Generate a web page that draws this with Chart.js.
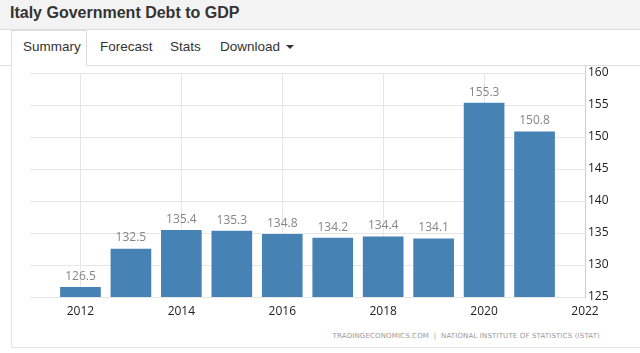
<!DOCTYPE html>
<html>
<head>
<meta charset="utf-8">
<script src="https://cdn.jsdelivr.net/npm/chart.js@4/dist/chart.umd.min.js"></script>
<style>
  body { margin: 0; width: 640px; height: 353px; background: #fff; position: relative; overflow: hidden; font-family: "Open Sans", sans-serif; }
  .head { position: absolute; left: 0; top: 0; width: 640px; height: 29px; background: #f3f3f3; border-bottom: 1px solid #ddd; }
  .head h1 { margin: 0; position: absolute; left: 10px; top: 4px; font: bold 16px "Liberation Sans", Arial, sans-serif; color: #333; }
  .tabs { position: absolute; left: 0; top: 30px; width: 640px; height: 35px; border-bottom: 1px solid #ddd; }
  .tab { position: absolute; top: 9px; font: 13.5px "Liberation Sans", Arial, sans-serif; color: #333; }
  .tab.active { top: 0; left: 11px; width: 76px; height: 36px; background: #fff; border: 1px solid #ddd; border-bottom: none; box-sizing: border-box; }
  .tab.active span { position: absolute; left: 11px; top: 8px; }
  .caret { display: inline-block; border-top: 4px solid #333; border-left: 4px solid transparent; border-right: 4px solid transparent; vertical-align: middle; margin-left: 6px; }
  .panel { position: absolute; left: 11px; top: 66px; width: 640px; height: 281px; border-left: 1px solid #e6e6e6; border-bottom: 1px solid #e6e6e6; }
  .wrap { position: absolute; left: 0; top: 60px; width: 640px; height: 270px; }
  .foot { position: absolute; right: 40px; top: 332px; font: 7px "DejaVu Sans", sans-serif; letter-spacing: 0.15px; color: #999; white-space: nowrap; }
</style>
</head>
<body>
<div class="head"><h1>Italy Government Debt to GDP</h1></div>
<div class="tabs">
  <div class="tab active"><span>Summary</span></div>
  <div class="tab" style="left:100px">Forecast</div>
  <div class="tab" style="left:170px">Stats</div>
  <div class="tab" style="left:220px">Download<span class="caret"></span></div>
</div>
<div class="panel"></div>
<div class="wrap"><canvas id="debtChart"></canvas></div>
<div class="foot">TRADINGECONOMICS.COM &nbsp;|&nbsp; NATIONAL INSTITUTE OF STATISTICS (ISTAT)</div>
<script>
const years = [2012, 2013, 2014, 2015, 2016, 2017, 2018, 2019, 2020, 2021];
const debtRatio = [126.5, 132.5, 135.4, 135.3, 134.8, 134.2, 134.4, 134.1, 155.3, 150.8];
const yearTicks = [2012, 2014, 2016, 2018, 2020, 2022];
const ratioTicks = [125, 130, 135, 140, 145, 150, 155, 160];

// etiket nilai di atas tiap batang
const valueLabels = {
  id: 'valueLabels',
  afterDatasetsDraw(chart) {
    const ctx = chart.ctx;
    const meta = chart.getDatasetMeta(0);
    ctx.save();
    ctx.font = '12px "Open Sans", sans-serif';
    ctx.fillStyle = '#858585';
    ctx.textAlign = 'center';
    ctx.textBaseline = 'middle';
    meta.data.forEach((bar, i) => {
      ctx.fillText(debtRatio[i].toFixed(1), bar.x, bar.y - 11);
    });
    // garis sumbu kanan sampai ke atas
    const y = chart.scales.y;
    ctx.strokeStyle = '#d0d0d0';
    ctx.lineWidth = 1;
    ctx.beginPath();
    ctx.moveTo(Math.round(y.left) + 0.5, 6);
    ctx.lineTo(Math.round(y.left) + 0.5, y.top);
    ctx.stroke();
    ctx.restore();
  }
};

new Chart(document.getElementById('debtChart'), {
  type: 'bar',
  data: {
    datasets: [{
      data: years.map((yr, i) => ({ x: yr, y: debtRatio[i] })),
      backgroundColor: '#4682b4',
      barThickness: 40
    }]
  },
  options: {
    responsive: true,
    maintainAspectRatio: false,
    animation: false,
    layout: { padding: { left: 30, top: 13, right: 0, bottom: 3 } },
    plugins: { legend: { display: false }, tooltip: { enabled: false } },
    scales: {
      x: {
        type: 'linear',
        offset: false,
        min: 2011,
        max: 2022,
        afterBuildTicks: s => { s.ticks = yearTicks.map(v => ({ value: v })); },
        afterFit: s => { s.height = 30; },
        grid: { color: '#e6e6e6', drawTicks: false, offset: false },
        border: { display: false },
        ticks: { padding: 7, color: '#222', font: { family: '"Open Sans", sans-serif', size: 12 }, callback: v => String(v) }
      },
      y: {
        position: 'right',
        min: 125,
        max: 160,
        afterBuildTicks: s => { s.ticks = ratioTicks.map(v => ({ value: v })); },
        afterFit: s => { s.width = 55; },
        grid: { color: '#e6e6e6', drawTicks: false },
        border: { color: '#d0d0d0' },
        ticks: { padding: 3, color: '#222', font: { family: '"Open Sans", sans-serif', size: 12 } }
      }
    }
  },
  plugins: [valueLabels]
});
</script>
</body>
</html>
